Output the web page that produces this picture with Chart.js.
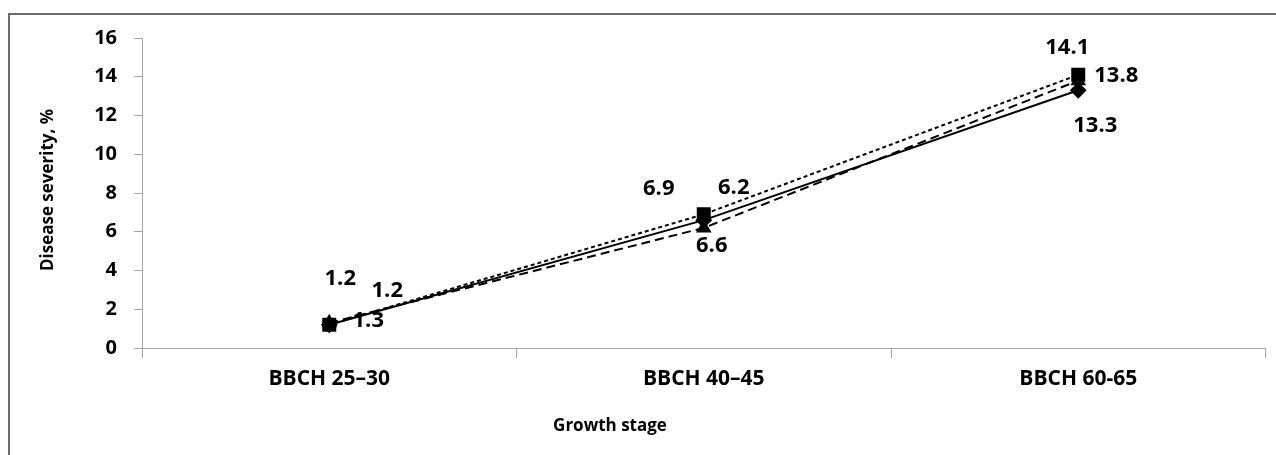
<!DOCTYPE html>
<html>
<head>
<meta charset="utf-8">
<script src="https://cdn.jsdelivr.net/npm/chart.js@4"></script>
<style>
  html, body { margin:0; padding:0; background:#fff; }
  #wrap { position:relative; width:1276px; height:455px; overflow:hidden; }
  #frame { position:absolute; left:8px; top:13px; width:1400px; height:600px; border-left:2px solid #6b6b6b; border-top:2px solid #6b6b6b; box-sizing:border-box; }
  canvas { position:absolute; left:0; top:0; }
</style>
</head>
<body>
<div id="wrap">
  <div id="frame"></div>
  <canvas id="c" width="1276" height="455"></canvas>
</div>
<script>
// ---- data ----
const categories = ['BBCH 25\u201330', 'BBCH 40\u201345', 'BBCH 60-65'];
const seriesSolid = [1.2, 6.6, 13.3];     // solid line, diamond markers
const seriesLongDash = [1.3, 6.2, 13.8];  // long dashes, triangle markers
const seriesShortDash = [1.2, 6.9, 14.1]; // short dashes, square markers
const yTicks = [0, 2, 4, 6, 8, 10, 12, 14, 16];

// label placement (pixel offsets from the point), per dataset
const labelOffsets = [
  [[58, -34], [8, 26], [17, 35]],
  [[39, -2], [30, -40], [38, -5]],
  [[11, -46], [-45, -26], [-11, -27]]
];

const FONT = '"Open Sans", Lato, sans-serif';

const labelsPlugin = {
  id: 'pointLabels',
  afterDatasetsDraw(chart) {
    const ctx = chart.ctx;
    ctx.save();
    ctx.font = '700 22px ' + FONT;
    ctx.fillStyle = '#000';
    ctx.textAlign = 'center';
    ctx.textBaseline = 'middle';
    chart.data.datasets.forEach((ds, di) => {
      const meta = chart.getDatasetMeta(di);
      meta.data.forEach((pt, i) => {
        const off = labelOffsets[di][i];
        ctx.fillText(ds.data[i].toFixed(1), pt.x + off[0], pt.y + off[1]);
      });
    });
    // axis titles
    ctx.font = '700 17px ' + FONT;
    ctx.fillText('Growth stage', 610, 426);
    ctx.translate(48, 190);
    ctx.rotate(-Math.PI / 2);
    ctx.fillText('Disease severity, %', 0, 0);
    ctx.restore();
  }
};

new Chart(document.getElementById('c'), {
  type: 'line',
  data: {
    labels: categories,
    datasets: [
      { data: seriesSolid, order: 2, borderColor:'#000', backgroundColor:'#000', borderWidth:2,
        pointStyle:'rectRot', pointRadius:7, pointHoverRadius:7 },
      { data: seriesLongDash, order: 1, borderColor:'#000', backgroundColor:'#000', borderWidth:2, borderDash:[9,5],
        pointStyle:'triangle', pointRadius:7, pointHoverRadius:7 },
      { data: seriesShortDash, order: 0, borderColor:'#000', backgroundColor:'#000', borderWidth:2, borderDash:[4,3],
        pointStyle:'rect', pointRadius:8.5, pointHoverRadius:8.5 }
    ]
  },
  options: {
    responsive: false,
    animation: false,
    devicePixelRatio: 1,
    layout: { padding: { left: 0, right: 6, top: 38, bottom: 0 } },
    plugins: { legend: { display:false }, tooltip: { enabled:false } },
    scales: {
      x: {
        offset: true,
        grid: { display:true, drawOnChartArea:false, drawTicks:true, tickLength:10, color:'#a6a6a6', offset:true },
        border: { color:'#a6a6a6', width:1 },
        ticks: { color:'#000', font:{ family:FONT, size:21, weight:'700' }, padding:8, maxRotation:0 },
        afterFit(s) { s.height = 107; }
      },
      y: {
        min: 0, max: 16,
        afterBuildTicks(s) { s.ticks = yTicks.map(v => ({ value: v })); },
        grid: { display:true, drawOnChartArea:false, drawTicks:true, tickLength:8, color:'#a6a6a6' },
        border: { color:'#a6a6a6', width:1 },
        ticks: { color:'#000', font:{ family:FONT, size:20, weight:'700' }, padding:17 },
        afterFit(s) { s.width = 142; }
      }
    }
  },
  plugins: [labelsPlugin]
});
</script>
</body>
</html>
